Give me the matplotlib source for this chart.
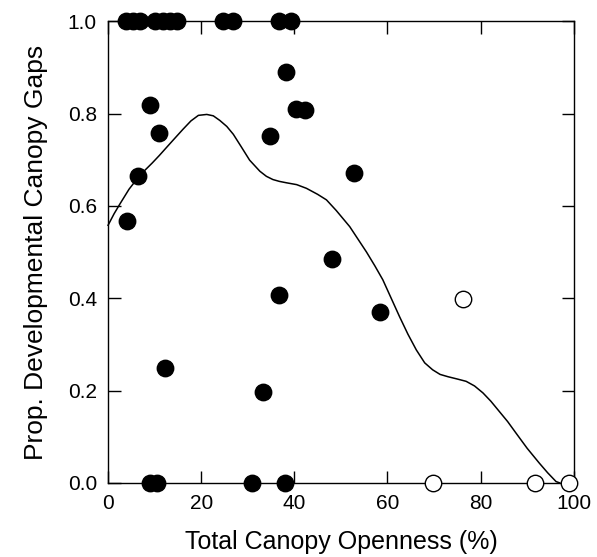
import matplotlib.pyplot as plt
import numpy as np

plt.rcParams['font.family'] = ['Liberation Sans', 'DejaVu Sans']

# filled circles: developmental gaps
open_x = [3.9, 5.4, 6.9, 10.1, 11.8, 13.3, 14.8, 24.7, 26.8, 36.7, 39.2,
          8.9, 10.9, 6.5, 38.3, 40.4, 42.4, 34.7, 52.9, 4.0, 48.1, 36.7,
          58.5, 33.2, 12.2, 9.0, 10.5, 31.0, 37.9]
prop = [1.0, 1.0, 1.0, 1.0, 1.0, 1.0, 1.0, 1.0, 1.0, 1.0, 1.0,
        0.819, 0.758, 0.664, 0.89, 0.809, 0.807, 0.751, 0.672, 0.568, 0.486, 0.407,
        0.371, 0.196, 0.248, 0.0, 0.0, 0.0, 0.0]

# open circles
open_x2 = [69.8, 91.7, 98.9, 76.2]
prop2 = [0.0, 0.0, 0.0, 0.398]

# smoothed curve
curve_x = [0, 1.3, 2.6, 4.5, 6.5, 8, 9.5, 11, 12.6, 14.3, 16.1, 17.8, 19.4, 21.2,
           22.6, 24, 25.5, 26.9, 28.6, 30.4, 32.6, 34, 35.4, 36.8, 38.3, 40.5,
           42.6, 45, 46.9, 49, 51.9, 55.5, 57.3, 59.0, 60.8, 62.6, 64.4, 66.2,
           68, 69.7, 71.3, 73, 75, 76.9, 78.7, 80.5, 82.2, 84, 85.8, 87.6, 90,
           92.6, 94.4, 96.2, 97]
curve_y = [0.558, 0.583, 0.605, 0.636, 0.662, 0.678, 0.693, 0.709, 0.727, 0.746,
           0.766, 0.784, 0.796, 0.798, 0.795, 0.785, 0.772, 0.755, 0.728, 0.699,
           0.675, 0.664, 0.657, 0.653, 0.65, 0.646, 0.638, 0.625, 0.613, 0.59,
           0.555, 0.5, 0.47, 0.44, 0.40, 0.36, 0.322, 0.288, 0.26, 0.245, 0.235,
           0.23, 0.225, 0.22, 0.21, 0.195, 0.177, 0.155, 0.133, 0.108, 0.075,
           0.043, 0.022, 0.003, 0.0]

fig = plt.figure(figsize=(5.97, 5.57), dpi=100)
ax = fig.add_axes([0.181, 0.133, 0.78, 0.829])

ax.plot(curve_x, curve_y, color='black', lw=1.1, clip_on=False)
ax.scatter(open_x, prop, s=140, color='black', clip_on=False, zorder=3)
ax.scatter(open_x2, prop2, s=140, facecolor='white', edgecolor='black',
           linewidth=1.0, clip_on=False, zorder=3)

ax.set_xlim(0, 100)
ax.set_ylim(0, 1)
ax.set_xticks(np.arange(0, 101, 20))
ax.set_yticks(np.arange(0, 1.01, 0.2))
ax.set_yticklabels(['0.0', '0.2', '0.4', '0.6', '0.8', '1.0'])
ax.tick_params(direction='in', length=9, width=1, top=True, right=True,
               labelsize=15, pad=8)
for s in ax.spines.values():
    s.set_linewidth(1.0)

ax.set_xlabel('Total Canopy Openness (%)', fontsize=18, labelpad=12)
ax.set_ylabel('Prop. Developmental Canopy Gaps', fontsize=19, labelpad=14)

fig.savefig('out.png', dpi=100)
